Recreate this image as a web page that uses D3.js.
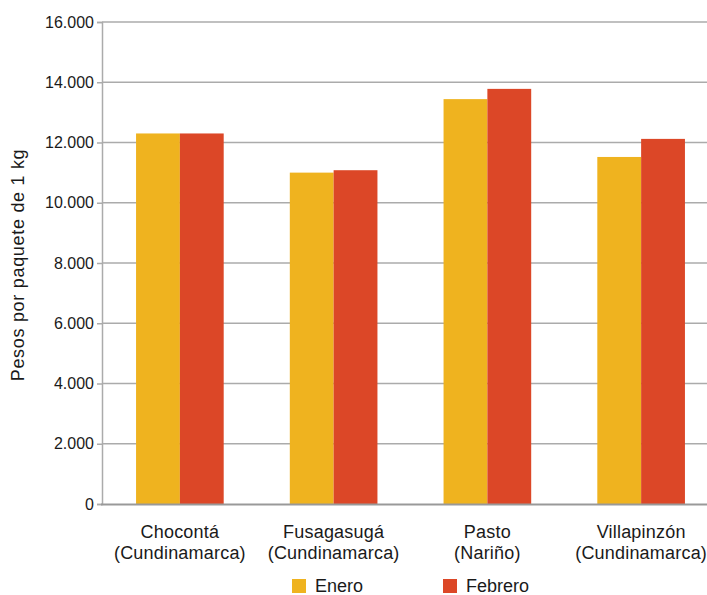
<!DOCTYPE html>
<html><head><meta charset="utf-8">
<script src="https://cdn.jsdelivr.net/npm/d3@7"></script>
<style>
html,body{margin:0;padding:0;background:#fff;}
text{font-family:"Liberation Sans",Arial,sans-serif;fill:#1a1a1a;}
</style></head>
<body>
<svg id="c" width="707" height="595"></svg>
<script>
const categories = [["Chocontá","(Cundinamarca)"],["Fusagasugá","(Cundinamarca)"],["Pasto","(Nariño)"],["Villapinzón","(Cundinamarca)"]];
const seriesNames = ["Enero","Febrero"];
const enero = [12300, 11000, 13440, 11520];
const febrero = [12300, 11080, 13780, 12120];
const yTicks = [0,2000,4000,6000,8000,10000,12000,14000,16000];
const yLabel = "Pesos por paquete de 1 kg";
const colors = ["#EFB31F","#DC4727"];

(function(){
const svg = d3.select("#c");
const W = 707;
const mLeft = 102, mBottom = 504, mTop = 22;
const x0 = d3.scaleBand().domain(d3.range(categories.length)).range([103, 718]).paddingInner(0.43).paddingOuter(0.215);
const x1 = d3.scaleBand().domain(seriesNames).range([0, x0.bandwidth()]);
const y = d3.scaleLinear().domain([0,16000]).range([mBottom, mTop]);
const fmt = d => d3.format(",")(d).replace(/,/g, ".");

// gridlines
svg.append("g").selectAll("line").data(yTicks.filter(d=>d>0)).join("line")
  .attr("x1", mLeft).attr("x2", W).attr("y1", d=>y(d)).attr("y2", d=>y(d))
  .attr("stroke", "#ababab").attr("stroke-width", 1.5);

// y axis
const ya = svg.append("g").attr("transform", `translate(${mLeft},0)`)
  .call(d3.axisLeft(y).tickValues(yTicks).tickFormat(fmt).tickSize(5).tickPadding(3));
ya.select(".domain").attr("stroke", "#ababab").attr("stroke-width", 1.5);
ya.selectAll(".tick line").attr("stroke", "#ababab").attr("stroke-width", 1.5);
ya.selectAll(".tick text").style("font-size", "16px").attr("fill", "#1a1a1a")
  .style("font-family", "'Liberation Sans', Arial, sans-serif");

// bars
const data = categories.map((c,i)=>({i, vals:[enero[i], febrero[i]]}));
const g = svg.append("g").selectAll("g").data(data).join("g")
  .attr("transform", d=>`translate(${x0(d.i)},0)`);
g.selectAll("rect").data(d=>d.vals.map((v,k)=>({k,v}))).join("rect")
  .attr("x", d=>x1(seriesNames[d.k])).attr("width", x1.bandwidth())
  .attr("y", d=>y(d.v)).attr("height", d=>y(0)-y(d.v))
  .attr("fill", d=>colors[d.k]);

// x axis line
svg.append("line").attr("x1", mLeft-1).attr("x2", W).attr("y1", mBottom+0.5).attr("y2", mBottom+0.5)
  .attr("stroke", "#999").attr("stroke-width", 2);

// x labels
const xl = svg.append("g").selectAll("text").data(categories).join("text")
  .attr("x", (d,i)=>x0(i)+x0.bandwidth()/2).attr("y", 538)
  .attr("text-anchor","middle").style("font-size","18px").style("letter-spacing","0.2px");
xl.selectAll("tspan").data(d=>d).join("tspan")
  .attr("x", function(){return d3.select(this.parentNode).attr("x");})
  .attr("dy", (d,j)=>j===0?0:21).text(d=>d);

// y label
svg.append("text").attr("transform","translate(24,265) rotate(-90)")
  .attr("text-anchor","middle").style("font-size","18px").style("letter-spacing","0.7px").text(yLabel);

// legend
const legX = [292, 443];
const lg = svg.append("g").selectAll("g").data(seriesNames).join("g")
  .attr("transform",(d,i)=>`translate(${legX[i]},579)`);
lg.append("rect").attr("width",14).attr("height",14).attr("fill",(d,i)=>colors[i]);
lg.append("text").attr("x",23).attr("y",13).style("font-size","18px").text(d=>d);
})();
</script>
</body></html>
